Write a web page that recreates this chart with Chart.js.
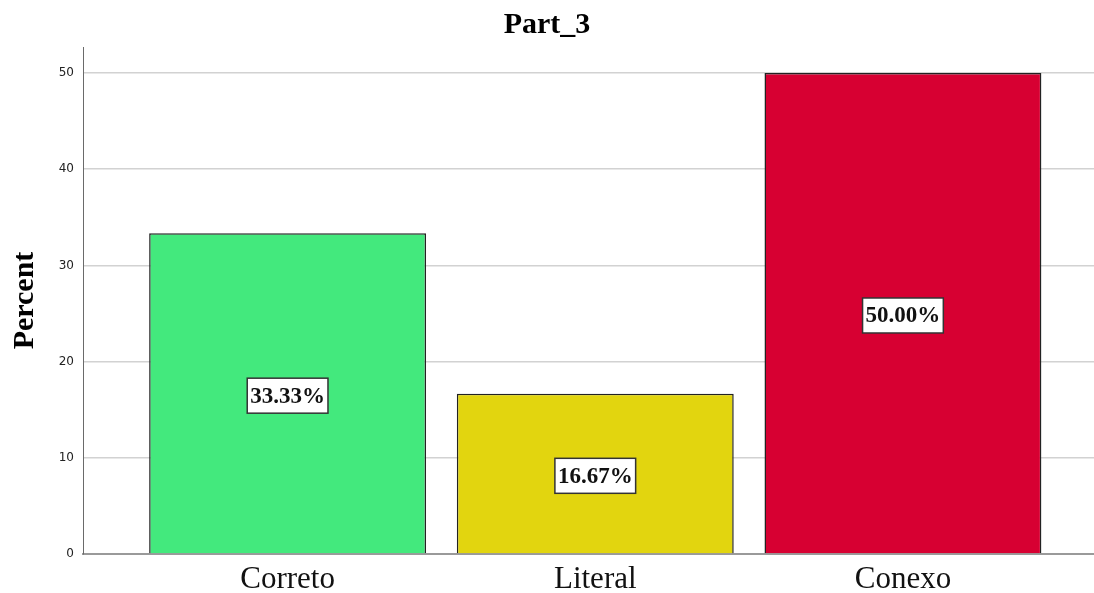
<!DOCTYPE html>
<html>
<head>
<meta charset="utf-8">
<script src="https://cdn.jsdelivr.net/npm/chart.js@4"></script>
<style>
  html, body { margin: 0; padding: 0; background: #fff; overflow: hidden; }
  #wrap { width: 1094px; height: 593px; position: relative; }
</style>
</head>
<body>
<div id="wrap"><canvas id="c" width="1094" height="593"></canvas></div>
<script>
const chartTitle = 'Part_3';
const yAxisTitle = 'Percent';
const categories = ['Correto', 'Literal', 'Conexo'];
const percents = [33.33, 16.67, 50.00];
const barColors = ['#43e97d', '#e2d50f', '#d70032'];
const yTicks = [0, 10, 20, 30, 40, 50];

const serif = '"Liberation Serif", "Times New Roman", serif';

const labelPlugin = {
  id: 'valueBoxes',
  afterDatasetsDraw(chart) {
    const ctx = chart.ctx;
    const meta = chart.getDatasetMeta(0);
    const ys = chart.scales.y;
    ctx.save();
    ctx.font = 'bold 23px ' + serif;
    ctx.textAlign = 'center';
    ctx.textBaseline = 'middle';
    meta.data.forEach((bar, i) => {
      const v = percents[i];
      const txt = v.toFixed(2) + '%';
      const cx = bar.x;
      const cy = ys.getPixelForValue(v / 2) + 2;
      const w = ctx.measureText(txt).width + 6;
      const h = 35;
      ctx.fillStyle = '#ffffff';
      ctx.fillRect(cx - w / 2, cy - h / 2, w, h);
      ctx.strokeStyle = '#333333';
      ctx.lineWidth = 1.5;
      ctx.strokeRect(cx - w / 2, cy - h / 2, w, h);
      ctx.fillStyle = '#111111';
      ctx.fillText(txt, cx, cy + 1);
    });
    ctx.restore();
  }
};

new Chart(document.getElementById('c'), {
  type: 'bar',
  data: {
    datasets: [{
      data: percents.map((v, i) => ({ x: i, y: v })),
      backgroundColor: barColors,
      borderColor: '#222222',
      borderWidth: 1.5,
      barPercentage: 0.9,
      categoryPercentage: 1.0
    }]
  },
  options: {
    responsive: false,
    animation: false,
    layout: { padding: 0 },
    plugins: {
      legend: { display: false },
      tooltip: { enabled: false },
      title: {
        display: true,
        text: chartTitle,
        color: '#000',
        font: { family: serif, size: 30, weight: 'bold', lineHeight: 1.2 },
        padding: { top: 7, bottom: 4 }
      }
    },
    scales: {
      x: {
        type: 'linear',
        offset: false,
        min: -0.665,
        max: 2.621,
        grid: { display: false, drawTicks: false, offset: false },
        border: { color: '#9a9a9a', width: 2 },
        afterFit(s) { s.height = 39; },
        afterBuildTicks(s) { s.ticks = categories.map((c, i) => ({ value: i })); },
        ticks: {
          padding: 10,
          color: '#111',
          font: { family: serif, size: 31, lineHeight: 1 },
          callback: (v) => categories[v] !== undefined ? categories[v] : ''
        }
      },
      y: {
        min: 0,
        max: 52.7,
        afterFit(s) { s.width = 83; },
        afterBuildTicks(s) { s.ticks = yTicks.map(v => ({ value: v })); },
        grid: { color: '#d2d2d2', lineWidth: 1.5, drawTicks: false },
        border: { color: '#6a6a6a', width: 1 },
        ticks: {
          padding: 9,
          color: '#222',
          font: { family: '"DejaVu Sans", sans-serif', size: 12 }
        },
        title: {
          display: true,
          text: yAxisTitle,
          color: '#000',
          font: { family: serif, size: 30, weight: 'bold', lineHeight: 1.2 },
          padding: { top: 7, bottom: 0 }
        }
      }
    }
  },
  plugins: [labelPlugin]
});
</script>
</body>
</html>
